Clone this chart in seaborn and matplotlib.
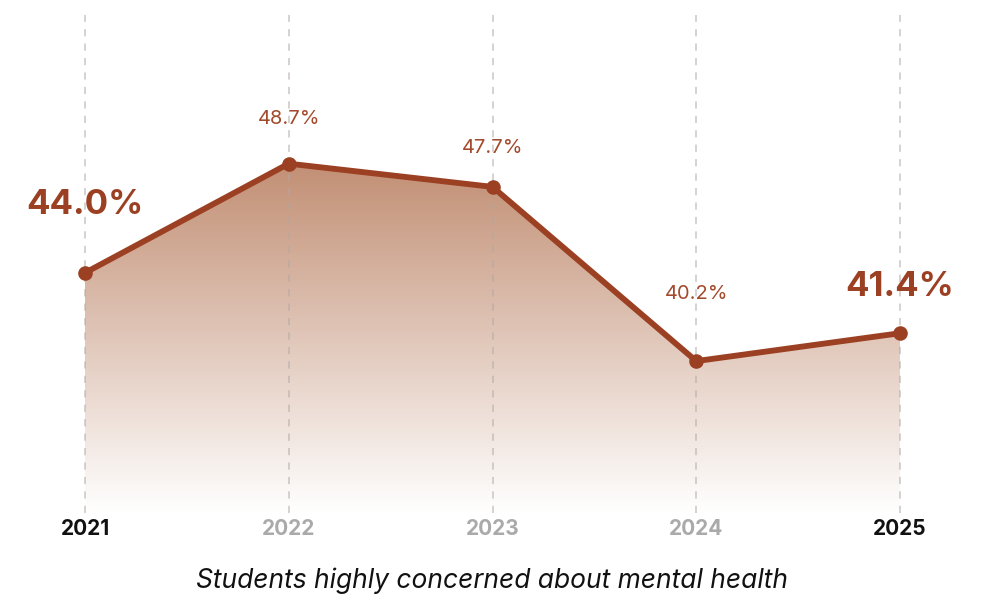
import numpy as np
import pandas as pd
import matplotlib
matplotlib.use("Agg")
import matplotlib.pyplot as plt
import seaborn as sns
from matplotlib.colors import LinearSegmentedColormap

years = [2021, 2022, 2023, 2024, 2025]
values = [44.0, 48.7, 47.7, 40.2, 41.4]
labels = ["44.0%", "48.7%", "47.7%", "40.2%", "41.4%"]
title = "Students highly concerned about mental health"

sns.set_theme(style="white")
plt.rcParams["font.family"] = ["Inter", "DejaVu Sans"]

LINE = "#9b4022"
df = pd.DataFrame({"year": years, "value": values})

fig = plt.figure(figsize=(9.82, 5.96), dpi=100)
ax = fig.add_axes([85 / 982, 1 - 513 / 596, (900 - 85) / 982, (513 - 15) / 596])
ymin, ymax = 33.66, 55.1
ax.set_xlim(2021, 2025)
ax.set_ylim(ymin, ymax)

# gradient fill under the line
poly = ax.fill_between(df["year"], df["value"], ymin, color="none", lw=0)
cmap = LinearSegmentedColormap.from_list("g", ["#ffffff", "#c28f74"])
grad = np.linspace(0, 1, 256).reshape(-1, 1)
im = ax.imshow(grad, extent=[2021, 2025, ymin, max(values)], origin="lower",
               aspect="auto", cmap=cmap, vmin=0, vmax=1, zorder=1)
im.set_clip_path(poly.get_paths()[0], transform=ax.transData)

for y in years:
    ax.axvline(y, color="#b0a8a4", alpha=0.55, lw=1.3, ls=(0, (4, 4)), zorder=1.5)

sns.lineplot(data=df, x="year", y="value", ax=ax, color=LINE, lw=4.2,
             marker="o", markersize=10.5, markeredgewidth=0, zorder=3)
for ln in ax.lines:
    ln.set_clip_on(False)

offsets = [49, 32, 28, 48, 33]
for i, (x, v, t) in enumerate(zip(years, values, labels)):
    big = i in (0, len(years) - 1)
    ax.annotate(t, (x, v), xytext=(0, offsets[i]), textcoords="offset points",
                ha="center", va="center", color=LINE if big else "#a44a2c",
                fontsize=25 if big else 14.5,
                fontweight="bold" if big else "normal", zorder=4)

ax.set_xticks(years)
ax.set_xticklabels([str(y) for y in years])
for i, tl in enumerate(ax.get_xticklabels()):
    if i in (0, len(years) - 1):
        tl.set_color("#111111")
    else:
        tl.set_color("#aaaaaa")
    tl.set_fontweight("bold")
    tl.set_fontsize(15)
ax.tick_params(axis="x", length=0, pad=4)
ax.set_yticks([])
ax.set_xlabel("")
ax.set_ylabel("")
for s in ax.spines.values():
    s.set_visible(False)
ax.patch.set_alpha(0)

fig.text(492 / 982, 1 - 581 / 596, title, ha="center", va="center",
         fontsize=19, style="italic", color="#111111")

fig.savefig("out.png", dpi=100)
